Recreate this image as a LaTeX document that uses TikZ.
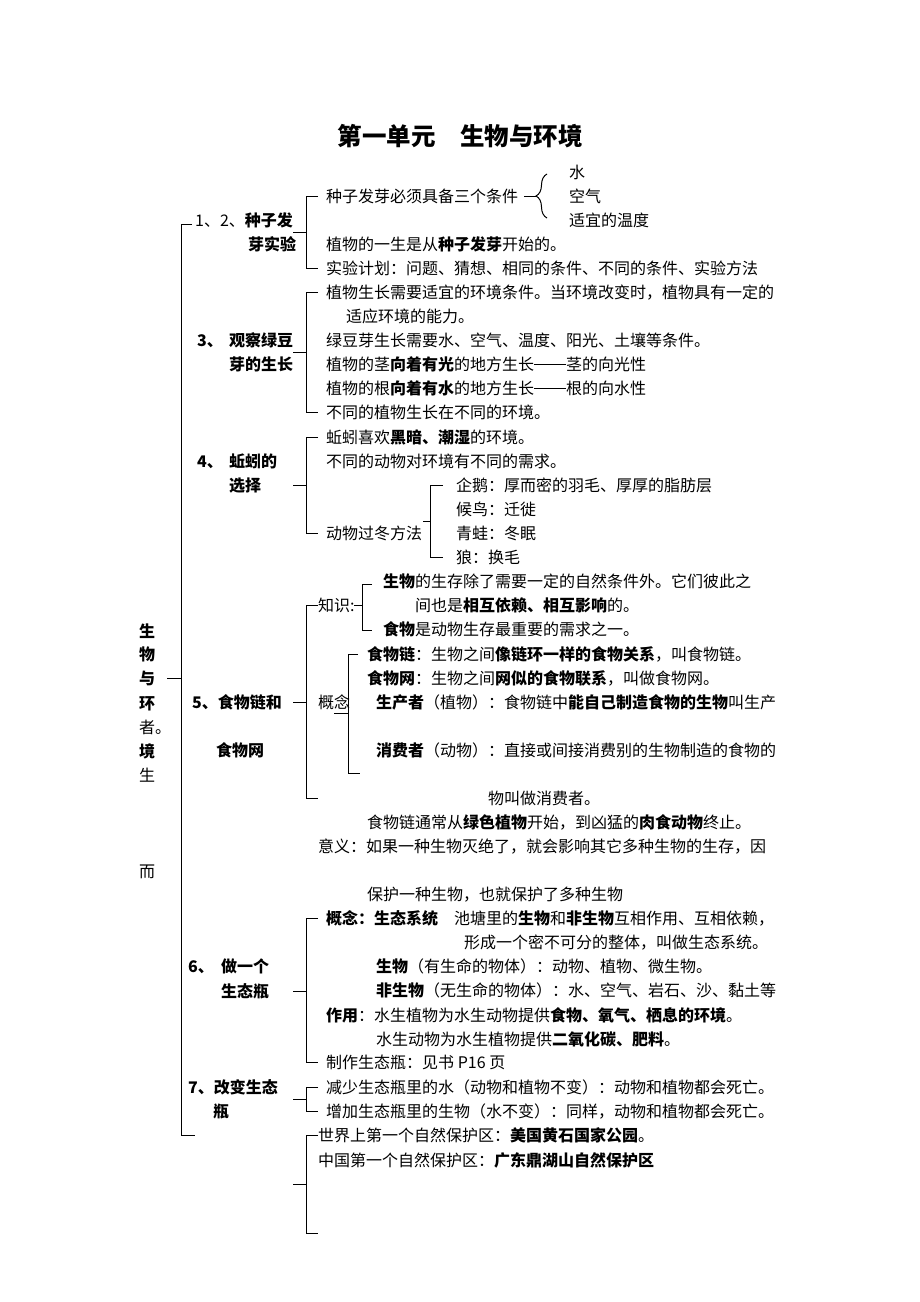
\documentclass[tikz,border=0pt]{standalone}
\usepackage{fontspec}
\setmainfont{Noto Sans CJK SC}
\usetikzlibrary{decorations.pathreplacing}
\newcommand\cndash{\rule[5.5pt]{32pt}{0.8pt}}
\begin{document}
\begin{tikzpicture}[x=1pt,y=-1pt,
  txt/.style={anchor=west,inner sep=0pt,text height=13pt,text depth=1pt,font=\fontsize{16}{16}\selectfont},
  lbl/.style={txt,font=\fontsize{16}{16}\selectfont\bfseries},
  ctr/.style={anchor=center,inner sep=0pt,text height=13pt,text depth=1pt,font=\fontsize{16}{16}\selectfont},
  brk/.style={line width=1pt,black},
  title/.style={anchor=center,inner sep=0pt,font=\fontsize{24.5}{24.5}\selectfont\bfseries}]
\useasboundingbox[fill=white] (0,0) rectangle (920,1302);

% title
\node[title] (ttl) at (460,136) {第一单元　生物与环境};

% left vertical text
\node[ctr,font=\fontsize{16}{16}\selectfont\bfseries] (v1) at (147,631) {生};
\node[ctr,font=\fontsize{16}{16}\selectfont\bfseries] (v2) at (147,654) {物};
\node[ctr,font=\fontsize{16}{16}\selectfont\bfseries] (v3) at (147,678) {与};
\node[ctr,font=\fontsize{16}{16}\selectfont\bfseries] (v4) at (147,703) {环};
\node[txt] (v5) at (139,727) {者。};
\node[ctr,font=\fontsize{16}{16}\selectfont\bfseries] (v6) at (147,751) {境};
\node[ctr] (v7) at (147,775) {生};
\node[ctr] (v8) at (147,871) {而};

% main bracket
\draw[brk] (192,224) -- (181,224) -- (181,1135) -- (195,1135);
\draw[brk] (167,678) -- (181,678);

% ---------- item 1,2
\node[txt] (l1a) at (195,220) {1、2、\textbf{种子发}};
\node[lbl] (l1b) at (248,244) {芽实验};
\draw[brk] (293,232) -- (306,232);
\draw[brk] (318,196) -- (306,196) -- (306,268) -- (318,268);
\node[txt] (a1) at (326,196) {种子发芽必须具备三个条件};
\node[txt] (a2) at (326,244) {植物的一生是从\textbf{种子发芽}开始的。};
\node[txt] (a3) at (326,268) {实验计划：问题、猜想、相同的条件、不同的条件、实验方法};
\draw[brk,decorate,decoration={brace,amplitude=11pt}] (547,218) -- (547,174);
\draw[brk] (524,196) -- (536,196);
\node[txt] (c1) at (569,172) {水};
\node[txt] (c2) at (569,196) {空气};
\node[txt] (c3) at (569,220) {适宜的温度};

% ---------- item 3
\node[lbl] (l3a) at (197,340) {3、};
\node[lbl] (l3b) at (229,340) {观察绿豆};
\node[lbl] (l3c) at (229,364) {芽的生长};
\draw[brk] (293,352) -- (306,352);
\draw[brk] (318,292) -- (306,292) -- (306,412) -- (318,412);
\node[txt] (b1) at (326,292) {植物生长需要适宜的环境条件。当环境改变时，植物具有一定的};
\node[txt] (b2) at (346,316) {适应环境的能力。};
\node[txt] (b3) at (326,340) {绿豆芽生长需要水、空气、温度、阳光、土壤等条件。};
\node[txt] (b4) at (326,364) {植物的茎\textbf{向着有光}的地方生长\cndash 茎的向光性};
\node[txt] (b5) at (326,388) {植物的根\textbf{向着有水}的地方生长\cndash 根的向水性};
\node[txt] (b6) at (326,412) {不同的植物生长在不同的环境。};

% ---------- item 4
\node[lbl] (l4a) at (197,461) {4、};
\node[lbl] (l4b) at (229,461) {蚯蚓的};
\node[lbl] (l4c) at (229,485) {选择};
\draw[brk] (293,485) -- (306,485);
\draw[brk] (318,437) -- (306,437) -- (306,533) -- (318,533);
\node[txt] (d1) at (326,437) {蚯蚓喜欢\textbf{黑暗、潮湿}的环境。};
\node[txt] (d2) at (326,461) {不同的动物对环境有不同的需求。};
\node[txt] (d3) at (326,533) {动物过冬方法};
\draw[brk] (423,521) -- (430,521);
\draw[brk] (443,485) -- (430,485) -- (430,557) -- (443,557);
\node[txt] (e1) at (456,485) {企鹅：厚而密的羽毛、厚厚的脂肪层};
\node[txt] (e2) at (456,509) {候鸟：迁徙};
\node[txt] (e3) at (456,533) {青蛙：冬眠};
\node[txt] (e4) at (456,557) {狼：换毛};

% ---------- item 5
\node[lbl] (l5a) at (192,702) {5、食物链和};
\node[lbl] (l5b) at (216,750) {食物网};
\draw[brk] (293,702) -- (306,702);
\draw[brk] (318,605) -- (306,605) -- (306,798) -- (318,798);
\node[txt] (k0) at (318,605) {知识:};
\draw[brk] (354,605) -- (362,605);
\draw[brk] (372,584) -- (362,584) -- (362,630) -- (372,630);
\node[txt] (k1) at (383,581) {\textbf{生物}的生存除了需要一定的自然条件外。它们彼此之};
\node[txt] (k2) at (415,605) {间也是\textbf{相互依赖、相互影响}的。};
\node[txt] (k3) at (383,629) {\textbf{食物}是动物生存最重要的需求之一。};
\node[txt] (g0) at (318,702) {概念};
\draw[brk] (334,713) -- (348,713);
\draw[brk] (358,654) -- (348,654) -- (348,773) -- (360,773);
\node[txt] (g1) at (367,654) {\textbf{食物链}：生物之间\textbf{像链环一样的食物关系}，叫食物链。};
\node[txt] (g2) at (367,678) {\textbf{食物网}：生物之间\textbf{网似的食物联系}，叫做食物网。};
\node[txt] (g3) at (376,702) {\textbf{生产者}（植物）：食物链中\textbf{能自己制造食物的生物}叫生产};
\node[txt] (g4) at (376,750) {\textbf{消费者}（动物）：直接或间接消费别的生物制造的食物的};
\node[txt] (g5) at (488,798) {物叫做消费者。};
\node[txt] (g6) at (367,822) {食物链通常从\textbf{绿色植物}开始，到凶猛的\textbf{肉食动物}终止。};
\node[txt] (g7) at (318,846) {意义：如果一种生物灭绝了，就会影响其它多种生物的生存，因};
\node[txt] (g8) at (367,894) {保护一种生物，也就保护了多种生物};

% ---------- item 6
\node[lbl] (l6a) at (188,966) {6、};
\node[lbl] (l6b) at (221,966) {做一个};
\node[lbl] (l6c) at (221,991) {生态瓶};
\draw[brk] (293,991) -- (306,991);
\draw[brk] (318,918) -- (306,918) -- (306,1062) -- (318,1062);
\node[txt] (h1) at (326,918) {\textbf{概念：生态系统}　池塘里的\textbf{生物}和\textbf{非生物}互相作用、互相依赖，};
\node[txt] (h2) at (464,942) {形成一个密不可分的整体，叫做生态系统。};
\node[txt] (h3) at (376,966) {\textbf{生物}（有生命的物体）：动物、植物、微生物。};
\node[txt] (h4) at (376,990) {\textbf{非生物}（无生命的物体）：水、空气、岩石、沙、黏土等};
\node[txt] (h5) at (326,1015) {\textbf{作用}：水生植物为水生动物提供\textbf{食物、氧气、栖息的环境}。};
\node[txt] (h6) at (376,1039) {水生动物为水生植物提供\textbf{二氧化碳、肥料}。};
\node[txt] (h7) at (326,1062) {制作生态瓶：见书 P16 页};

% ---------- item 7
\node[lbl] (l7a) at (188,1087) {7、改变生态};
\node[lbl] (l7b) at (213,1111) {瓶};
\draw[brk] (293,1099) -- (306,1099);
\draw[brk] (318,1087) -- (306,1087) -- (306,1111) -- (318,1111);
\node[txt] (m1) at (326,1087) {减少生态瓶里的水（动物和植物不变）：动物和植物都会死亡。};
\node[txt] (m2) at (326,1111) {增加生态瓶里的生物（水不变）：同样，动物和植物都会死亡。};

% ---------- last bracket
\draw[brk] (293,1184) -- (306,1184);
\draw[brk] (318,1135) -- (306,1135) -- (306,1233) -- (318,1233);
\node[txt] (n1) at (318,1135) {世界上第一个自然保护区：\textbf{美国黄石国家公园}。};
\node[txt] (n2) at (318,1160) {中国第一个自然保护区：\textbf{广东鼎湖山自然保护区}};
\end{tikzpicture}
\end{document}
